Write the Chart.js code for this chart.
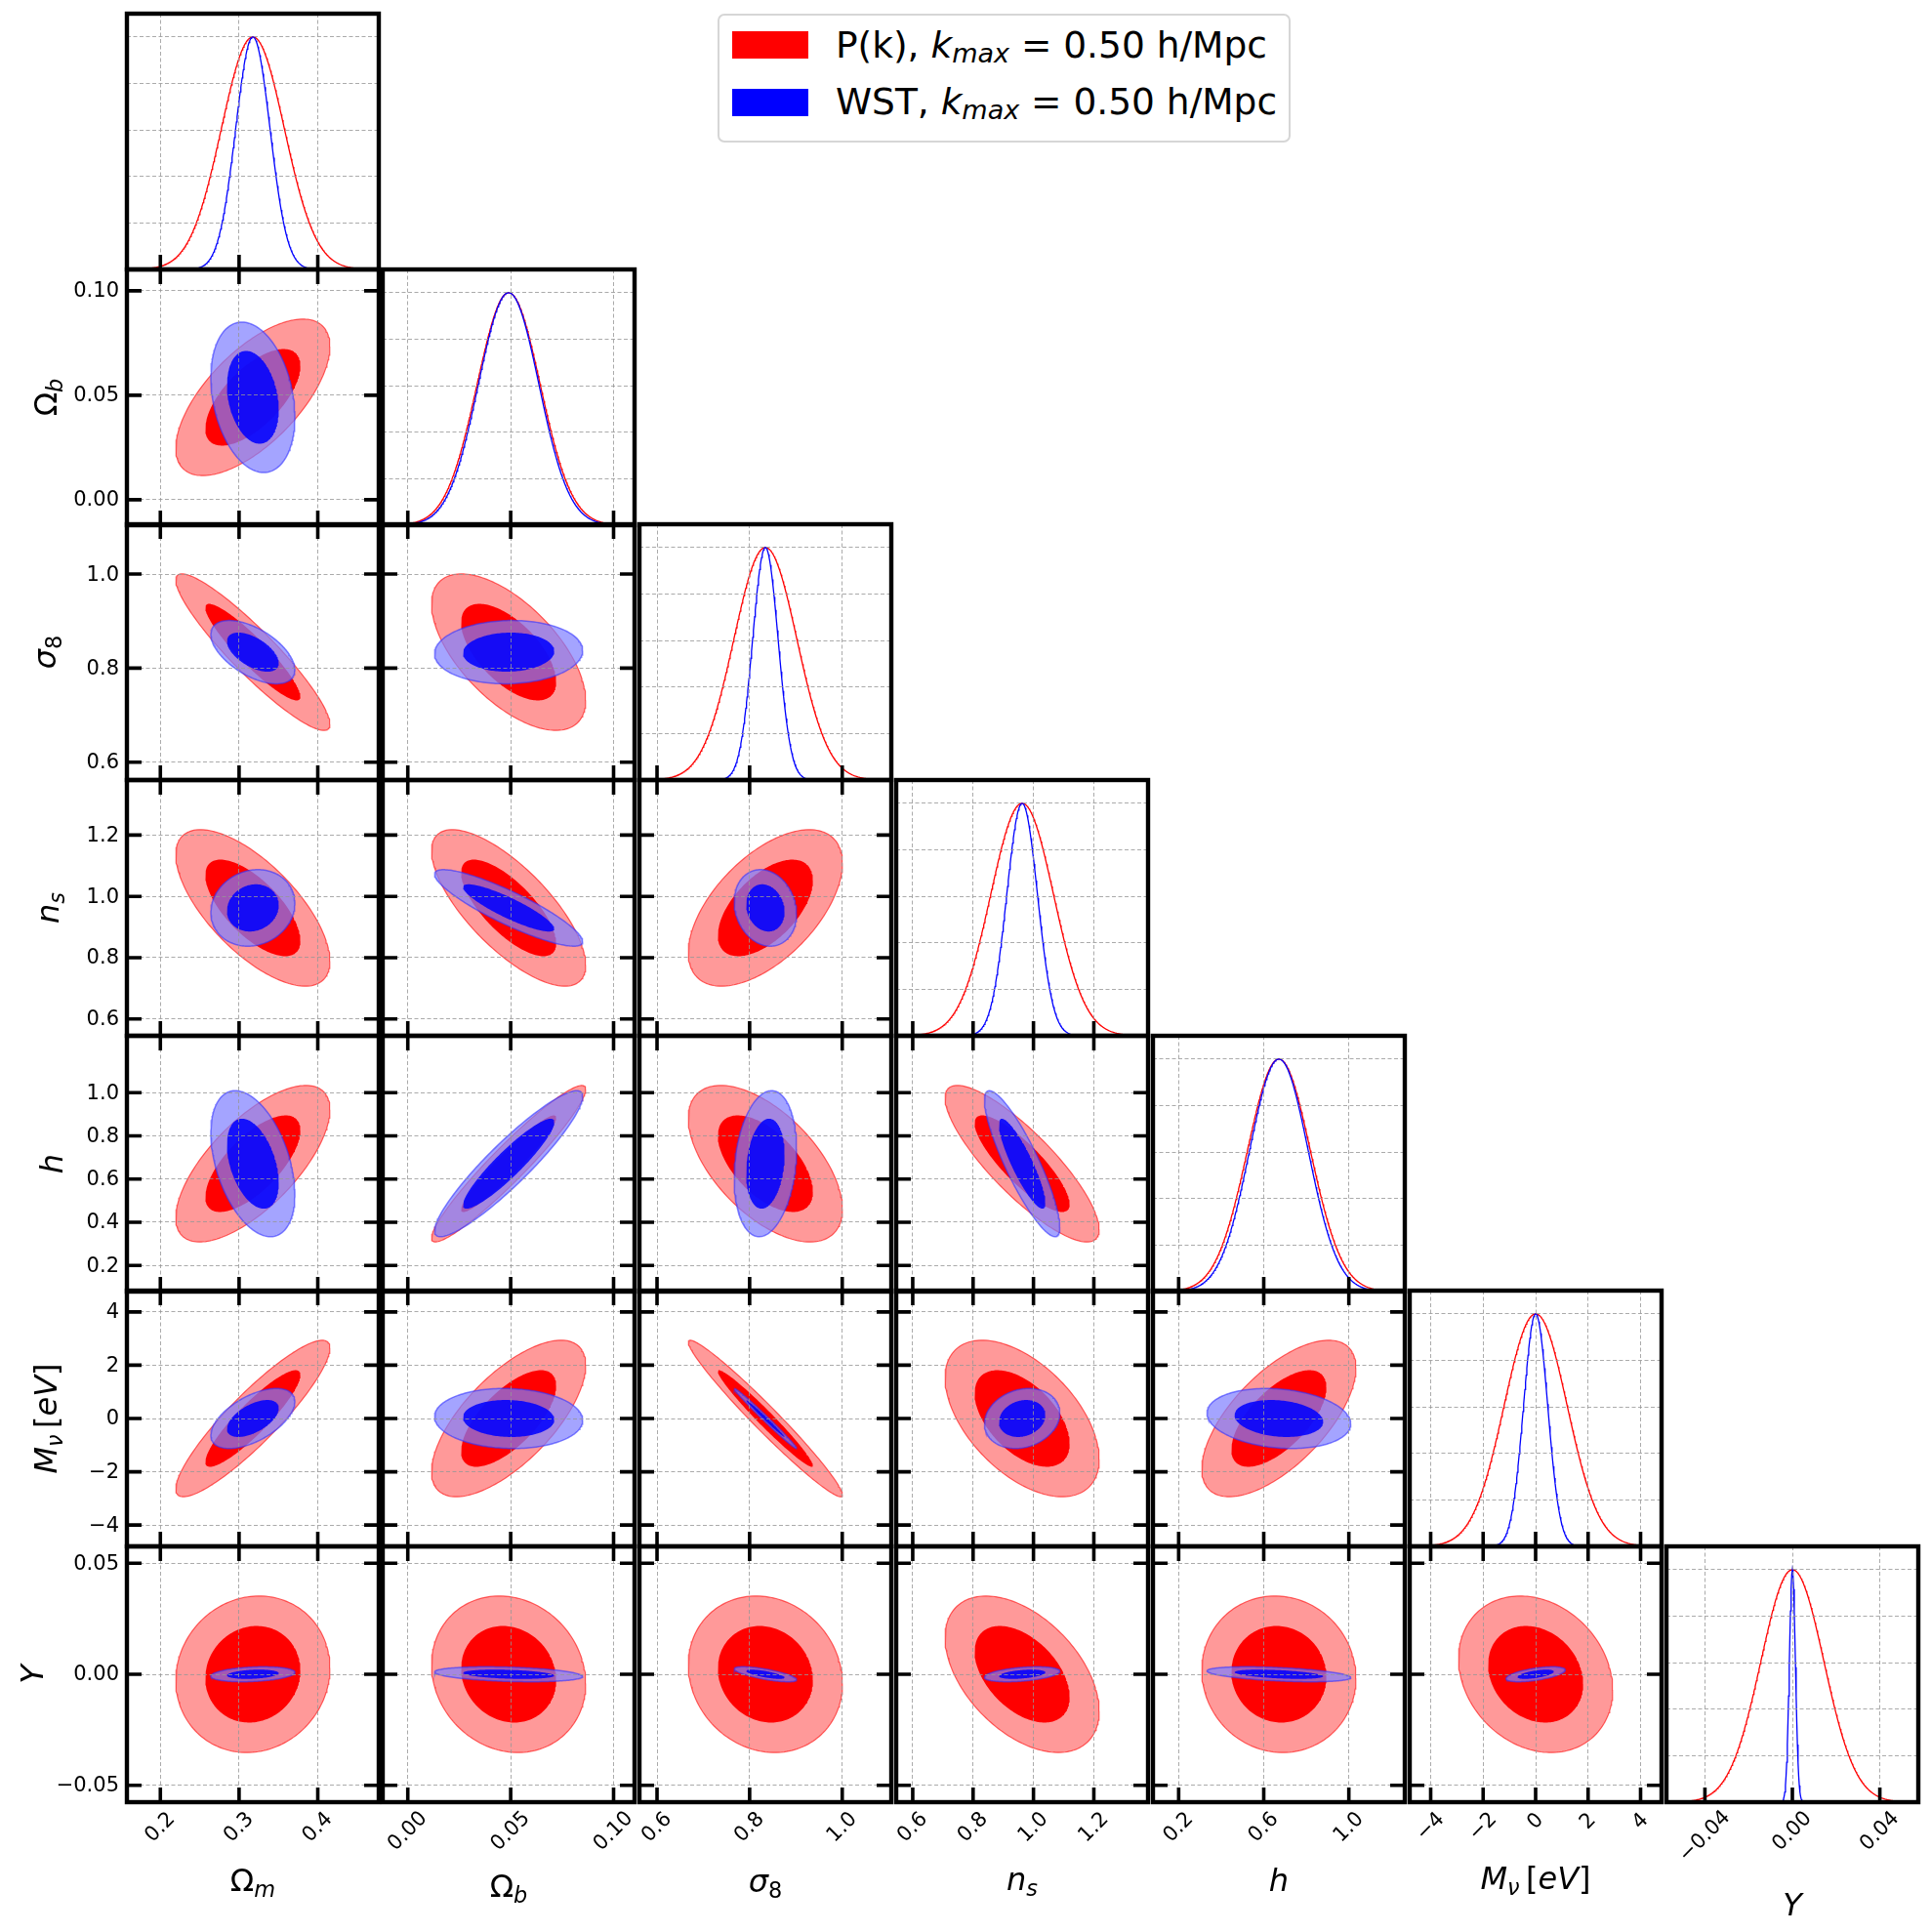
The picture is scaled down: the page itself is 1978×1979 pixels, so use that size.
<!DOCTYPE html>
<html>
<head>
<meta charset="utf-8">
<title>P(k) vs WST Fisher forecast</title>
<script src="https://cdn.jsdelivr.net/npm/chart.js@4.4.1/dist/chart.umd.min.js"></script>
<style>
  html, body { margin: 0; padding: 0; background: #fff; }
  body { position: relative; width: 1978px; height: 1979px; overflow: hidden; font-family: "DejaVu Sans", sans-serif; }
  canvas { position: absolute; }
  #legend { position: absolute; left: 735px; top: 14px; width: 583px; height: 128px; border: 2px solid #d6d6d6; border-radius: 7px; background: #fff; z-index: 5; }
  #legend .patch { position: absolute; left: 13px; width: 78px; height: 28px; }
  #legend .label { position: absolute; left: 119px; font-size: 37.5px; line-height: 37.5px; white-space: nowrap; color: #000; }
  #legend .sub { font-style: italic; font-size: 0.72em; position: relative; top: 0.2em; }
</style>
</head>
<body>
<div id="legend">
  <div class="patch" style="top:16px;background:#ff0000"></div>
  <div class="label" style="top:12px">P(k), <i>k</i><span class="sub">max</span> = 0.50 h/Mpc</div>
  <div class="patch" style="top:75px;background:#0000ff"></div>
  <div class="label" style="top:70px">WST, <i>k</i><span class="sub">max</span> = 0.50 h/Mpc</div>
</div>
<script>
// parameters: Om, Ob, s8, ns, h, Mnu, Y
const fiducial = [0.3175, 0.049, 0.834, 0.9624, 0.6711, 0.0, 0.0];
const sigmaPk  = [0.0400, 0.0153, 0.0680, 0.1043, 0.1480, 1.20, 0.0144];
const sigmaWST = [0.0218, 0.0147, 0.0275, 0.0510, 0.1380, 0.46, 0.00138];

// correlation coefficients, lower triangle: corr[row][col]
const corrPk = [
  [],
  [0.65],
  [-0.92, -0.615],
  [-0.68, -0.73, 0.57],
  [0.69, 0.95, -0.58, -0.84],
  [0.90, 0.68, -0.975, -0.52, 0.645],
  [0.08, -0.12, -0.12, -0.47, -0.05, -0.20]
];
const corrWST = [
  [],
  [-0.26],
  [-0.56, 0.05],
  [0.12, -0.88, -0.16],
  [-0.42, 0.92, 0.20, -0.87],
  [0.56, -0.06, -0.993, 0.18, -0.18],
  [0.25, -0.30, -0.72, 0.40, -0.45, 0.58]
];

const xTicks = [[0.2, 0.3, 0.4], [0.0, 0.05, 0.10], [0.6, 0.8, 1.0], [0.6, 0.8, 1.0, 1.2], [0.2, 0.6, 1.0], [-4, -2, 0, 2, 4], [-0.04, 0.0, 0.04]];
const xTickLabels = [['0.2', '0.3', '0.4'], ['0.00', '0.05', '0.10'], ['0.6', '0.8', '1.0'], ['0.6', '0.8', '1.0', '1.2'], ['0.2', '0.6', '1.0'], ['\u22124', '\u22122', '0', '2', '4'], ['\u22120.04', '0.00', '0.04']];
const yTicks = [[], [0.0, 0.05, 0.10], [0.6, 0.8, 1.0], [0.6, 0.8, 1.0, 1.2], [0.2, 0.4, 0.6, 0.8, 1.0], [-4, -2, 0, 2, 4], [-0.05, 0.0, 0.05]];
const yTickLabels = [[], ['0.00', '0.05', '0.10'], ['0.6', '0.8', '1.0'], ['0.6', '0.8', '1.0', '1.2'], ['0.2', '0.4', '0.6', '0.8', '1.0'], ['\u22124', '\u22122', '0', '2', '4'], ['\u22120.05', '0.00', '0.05']];
const densityTicks = [0.2, 0.4, 0.6, 0.8, 1.0];

const nSigmaRange = 4;          // axis range = fiducial +- 4 sigma(P(k))
const levelOuter = 2.448;       // sqrt(delta chi2) 95%
const levelInner = 1.51;        // sqrt(delta chi2) 68%

// axis titles (mathtext-like pieces)
const titles = [
  [{ t: '\u03A9' }, { t: 'm', it: 1, sub: 1 }],
  [{ t: '\u03A9' }, { t: 'b', it: 1, sub: 1 }],
  [{ t: '\u03C3', it: 1 }, { t: '8', sub: 1 }],
  [{ t: 'n', it: 1 }, { t: 's', it: 1, sub: 1 }],
  [{ t: 'h', it: 1 }],
  [{ t: 'M', it: 1 }, { t: '\u03BD', it: 1, sub: 1 }, { t: '\u2009[' }, { t: 'eV', it: 1 }, { t: ']' }],
  [{ t: 'Y', it: 1 }]
];

// layout
const PW = 258, PH = 262, TICK = 15;
const colLeft = c => Math.round(129.5 + 262.9 * c);
const rowTop = r => Math.round(13.8 + 261.7 * r);
const bottomTitleOffset = [91, 97, 92, 90, 91, 89, 116];
const leftTitleOffset = [0, -72, -73, -70, -66, -72, -86];
const FONT = '"DejaVu Sans"';

const lo = fiducial.map((f, i) => f - nSigmaRange * sigmaPk[i]);
const hi = fiducial.map((f, i) => f + nSigmaRange * sigmaPk[i]);

function ellipse(mx, my, sx, sy, rho, level) {
  const pts = [];
  const k = Math.sqrt(1 - rho * rho);
  for (let n = 0; n <= 180; n++) {
    const t = 2 * Math.PI * n / 180;
    pts.push({ x: mx + level * sx * Math.cos(t), y: my + level * sy * (rho * Math.cos(t) + k * Math.sin(t)) });
  }
  return pts;
}

function gaussian(mu, sigma, a, b) {
  const pts = [];
  const N = 401;
  for (let n = 0; n < N; n++) {
    const x = a + (b - a) * n / (N - 1);
    pts.push({ x: x, y: Math.exp(-0.5 * Math.pow((x - mu) / sigma, 2)) });
  }
  return pts;
}

function drawMath(ctx, parts, size, x, y) {
  const fonts = parts.map(p => (p.it ? 'italic ' : '') + (p.sub ? size * 0.7 : size) + 'px ' + FONT);
  let total = 0;
  const widths = parts.map((p, i) => {
    ctx.font = fonts[i];
    const w = ctx.measureText(p.t).width;
    total += w;
    return w;
  });
  let cx = x - total / 2;
  ctx.textAlign = 'left';
  ctx.textBaseline = 'alphabetic';
  parts.forEach((p, i) => {
    ctx.font = fonts[i];
    ctx.fillText(p.t, cx, y + (p.sub ? size * 0.2 : 0));
    cx += widths[i];
  });
}

const panelDecor = {
  id: 'panelDecor',
  afterDraw(chart, args, opts) {
    const { ctx, chartArea: a } = chart;
    const xs = chart.scales.x, ys = chart.scales.y;
    const r = opts.r, c = opts.c;
    ctx.save();
    ctx.strokeStyle = '#000';
    ctx.fillStyle = '#000';
    ctx.lineCap = 'butt';

    // inward ticks
    ctx.lineWidth = 3.6;
    ctx.beginPath();
    xTicks[c].forEach(v => {
      const px = xs.getPixelForValue(v);
      ctx.moveTo(px, a.bottom); ctx.lineTo(px, a.bottom - TICK);
      if (r !== c) { ctx.moveTo(px, a.top); ctx.lineTo(px, a.top + TICK); }
    });
    if (r !== c) {
      yTicks[r].forEach(v => {
        const py = ys.getPixelForValue(v);
        ctx.moveTo(a.left, py); ctx.lineTo(a.left + TICK, py);
        ctx.moveTo(a.right, py); ctx.lineTo(a.right - TICK, py);
      });
    }
    ctx.stroke();

    // frame
    ctx.lineWidth = 4.4;
    ctx.strokeRect(a.left, a.top, a.right - a.left, a.bottom - a.top);

    // bottom tick labels and title
    if (r === 6) {
      ctx.font = '21px ' + FONT;
      xTicks[c].forEach((v, k) => {
        const txt = xTickLabels[c][k];
        const w = ctx.measureText(txt).width;
        ctx.save();
        ctx.translate(xs.getPixelForValue(v), a.bottom + 16 + 0.3 * w);
        ctx.rotate(-Math.PI / 4);
        ctx.textAlign = 'center';
        ctx.textBaseline = 'middle';
        ctx.fillText(txt, 0, 0);
        ctx.restore();
        ctx.font = '21px ' + FONT;
      });
      drawMath(ctx, titles[c], 32, (a.left + a.right) / 2, a.bottom + bottomTitleOffset[c]);
    }

    // left tick labels and title
    if (c === 0 && r > 0) {
      ctx.font = '21px ' + FONT;
      ctx.textAlign = 'right';
      ctx.textBaseline = 'middle';
      yTicks[r].forEach((v, k) => {
        ctx.fillText(yTickLabels[r][k], a.left - 8, ys.getPixelForValue(v) + 1);
      });
      ctx.save();
      ctx.translate(a.left + leftTitleOffset[r], (a.top + a.bottom) / 2);
      ctx.rotate(-Math.PI / 2);
      drawMath(ctx, titles[r], 32, 0, 0);
      ctx.restore();
    }
    ctx.restore();
  }
};

function axis(min, max, ticks) {
  return {
    type: 'linear',
    min: min,
    max: max,
    z: 1,
    afterBuildTicks: s => { s.ticks = ticks.map(v => ({ value: v })); },
    ticks: { display: false },
    grid: { color: 'rgba(150,150,150,0.8)', lineWidth: 1, drawTicks: false, z: 1 },
    border: { display: false, dash: [4, 2.5] }
  };
}

function makePanel(r, c) {
  const diag = r === c;
  const padL = c === 0 ? colLeft(0) : 6;
  const padT = 6, padR = 6;
  const padB = r === 6 ? 1979 - (rowTop(6) + PH) : 6;
  const canvas = document.createElement('canvas');
  const W = padL + PW + padR, H = padT + PH + padB;
  canvas.width = W; canvas.height = H;
  canvas.style.width = W + 'px'; canvas.style.height = H + 'px';
  canvas.style.left = (colLeft(c) - padL) + 'px';
  canvas.style.top = (rowTop(r) - padT) + 'px';
  document.body.appendChild(canvas);

  let datasets;
  if (diag) {
    datasets = [
      { data: gaussian(fiducial[c], sigmaPk[c], lo[c], hi[c]), borderColor: '#ff0000', borderWidth: 1.3, fill: false, order: 2 },
      { data: gaussian(fiducial[c], sigmaWST[c], lo[c], hi[c]), borderColor: '#0000ff', borderWidth: 1.3, fill: false, order: 1 }
    ];
  } else {
    const mx = fiducial[c], my = fiducial[r];
    const rP = corrPk[r][c], rW = corrWST[r][c];
    datasets = [
      { data: ellipse(mx, my, sigmaPk[c], sigmaPk[r], rP, levelOuter), backgroundColor: 'rgba(255,0,0,0.4)', borderColor: 'rgba(255,0,0,0.6)', borderWidth: 1.2, fill: 'shape', order: 4 },
      { data: ellipse(mx, my, sigmaPk[c], sigmaPk[r], rP, levelInner), backgroundColor: '#ff0000', borderWidth: 0, fill: 'shape', order: 3 },
      { data: ellipse(mx, my, sigmaWST[c], sigmaWST[r], rW, levelOuter), backgroundColor: 'rgba(126,126,255,0.7)', borderColor: 'rgba(50,50,255,0.6)', borderWidth: 1.5, fill: 'shape', order: 2 },
      { data: ellipse(mx, my, sigmaWST[c], sigmaWST[r], rW, levelInner), backgroundColor: 'rgba(0,0,255,0.87)', borderWidth: 0, fill: 'shape', order: 1 }
    ];
  }

  new Chart(canvas, {
    type: 'line',
    data: { datasets: datasets },
    options: {
      responsive: false,
      animation: false,
      devicePixelRatio: 1,
      events: [],
      layout: { autoPadding: false, padding: { left: padL, right: padR, top: padT, bottom: padB } },
      elements: { point: { radius: 0 }, line: { tension: 0 } },
      plugins: { legend: { display: false }, tooltip: { enabled: false }, panelDecor: { r: r, c: c } },
      scales: {
        x: axis(lo[c], hi[c], xTicks[c]),
        y: diag ? axis(0, 1.1, densityTicks) : axis(lo[r], hi[r], yTicks[r])
      }
    },
    plugins: [panelDecor]
  });
}

for (let r = 0; r < 7; r++) {
  for (let c = 0; c <= r; c++) makePanel(r, c);
}
</script>
</body>
</html>
